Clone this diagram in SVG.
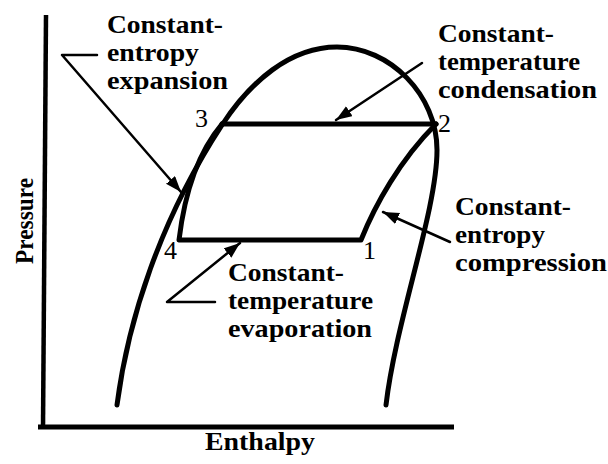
<svg xmlns="http://www.w3.org/2000/svg" width="608" height="464" viewBox="0 0 608 464">
<defs>
<style>
text{font-family:"Liberation Serif","Times New Roman","DejaVu Serif",serif;fill:#000}
.lbl{font-size:26px;font-weight:bold}
.num{font-size:26px}
.thick{fill:none;stroke:#000;stroke-width:5;stroke-linecap:round;stroke-linejoin:round}
.ptr{fill:none;stroke:#000;stroke-width:2.5;stroke-linecap:round;stroke-linejoin:round}
</style>
<marker id="ah" markerUnits="userSpaceOnUse" markerWidth="18" markerHeight="14" refX="16" refY="6" orient="auto">
<path d="M0,0 L16,6 L0,12 z" fill="#000"/>
</marker>
</defs>
<rect width="608" height="464" fill="#fff"/>
<g id="axes">
<line x1="46" y1="15" x2="43" y2="428" stroke="#000" stroke-width="4.5"/>
<line x1="38" y1="427" x2="454" y2="427" stroke="#000" stroke-width="5"/>
<text class="lbl" transform="translate(33,264) rotate(-90)" font-size="25" textLength="86" lengthAdjust="spacingAndGlyphs">Pressure</text>
<text class="lbl" x="205" y="450" textLength="110" lengthAdjust="spacingAndGlyphs">Enthalpy</text>
</g>
<g id="dome">
<path class="thick" d="M117,405 C128,320 160,220 222,125 C250,82 290,47 337,47 C390,47 437,95 437,150 C437,210 396,320 386,405"/>
</g>
<g id="cycle">
<path class="thick" d="M222,124 L436,124"/>
<path class="thick" d="M222,124 C200,150 185,190 179,240 L361,240 C375,205 400,160 436,124"/>
</g>
<g id="points">
<text class="num" x="195" y="127">3</text>
<text class="num" x="438" y="132">2</text>
<text class="num" x="164" y="259">4</text>
<text class="num" x="363" y="259">1</text>
</g>
<g id="connectors">
<line class="ptr" x1="422" y1="63" x2="336" y2="120" marker-end="url(#ah)"/>
<polyline class="ptr" points="97,55 62,55 181,192" marker-end="url(#ah)"/>
<polyline class="ptr" points="215,302 167,302 240,243" marker-end="url(#ah)"/>
<line class="ptr" x1="450" y1="242" x2="383" y2="212" marker-end="url(#ah)"/>
</g>
<g id="label-expansion">
<text class="lbl" x="107" y="33" textLength="116" lengthAdjust="spacingAndGlyphs">Constant-</text>
<text class="lbl" x="107" y="61" textLength="92" lengthAdjust="spacingAndGlyphs">entropy</text>
<text class="lbl" x="107" y="89" textLength="121" lengthAdjust="spacingAndGlyphs">expansion</text>
</g>
<g id="label-condensation">
<text class="lbl" x="438" y="42" textLength="116" lengthAdjust="spacingAndGlyphs">Constant-</text>
<text class="lbl" x="438" y="70" textLength="142" lengthAdjust="spacingAndGlyphs">temperature</text>
<text class="lbl" x="438" y="98" textLength="159" lengthAdjust="spacingAndGlyphs">condensation</text>
</g>
<g id="label-compression">
<text class="lbl" x="455" y="215" textLength="116" lengthAdjust="spacingAndGlyphs">Constant-</text>
<text class="lbl" x="455" y="243" textLength="90" lengthAdjust="spacingAndGlyphs">entropy</text>
<text class="lbl" x="455" y="271" textLength="152" lengthAdjust="spacingAndGlyphs">compression</text>
</g>
<g id="label-evaporation">
<text class="lbl" x="228" y="281" textLength="116" lengthAdjust="spacingAndGlyphs">Constant-</text>
<text class="lbl" x="228" y="309" textLength="145" lengthAdjust="spacingAndGlyphs">temperature</text>
<text class="lbl" x="228" y="337" textLength="144" lengthAdjust="spacingAndGlyphs">evaporation</text>
</g>
</svg>
